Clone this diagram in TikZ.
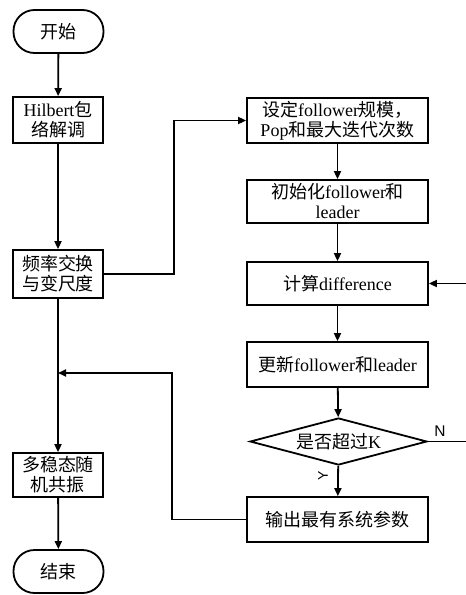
\documentclass[tikz,border=0pt]{standalone}
\usepackage{fontspec}
\setmainfont{Liberation Serif}
\newfontfamily\cjk{Noto Sans CJK SC}
\newfontfamily\labelfont{Liberation Sans}
\usetikzlibrary{arrows.meta,shapes.geometric}
\newcommand\zh[1]{{\cjk #1}}
\tikzset{
  box/.style={draw,line width=1.8pt,fill=white,minimum width=#1,align=center,
    font=\fontsize{18}{20}\selectfont,inner sep=1pt},
  box/.default=90pt,
  term/.style={draw,line width=1.8pt,rounded corners=21pt,minimum width=90pt,
    minimum height=43pt,font=\fontsize{18}{20}\selectfont},
  decide/.style={draw,diamond,aspect=3.75,line width=1.8pt,inner sep=0pt,
    minimum width=177pt,minimum height=47pt,font=\fontsize{18}{20}\selectfont},
  arr/.style={line width=1.8pt,-{Triangle[length=8pt,width=7pt]}},
}
\begin{document}
\begin{tikzpicture}[x=1pt,y=-1pt]
      \useasboundingbox (0,0) rectangle (466,595);
      % left column
      \node[term] (start) at (58.5,31.5) {\zh{开始}};
      \node[box,minimum height=46pt] (hilbert) at (58,120) {Hilbert\zh{包}\\\zh{络解调}};
      \node[box,minimum height=48pt] (freq) at (58,274) {\zh{频率交换}\\\zh{与变尺度}};
      \node[box,minimum height=44pt] (multi) at (58,475) {\zh{多稳态随}\\\zh{机共振}};
      \node[term] (stop) at (58.5,571.5) {\zh{结束}};
      % right column
      \node[box=181pt,minimum height=45pt] (setup) at (337.5,120.5)
        {\zh{设定}follower\zh{规模，}\\Pop\zh{和最大迭代次数}};
      \node[box=181pt,minimum height=43pt] (init) at (337.5,201.5)
        {\zh{初始化}follower\zh{和}\\leader};
      \node[box=181pt,minimum height=43pt] (calc) at (337.5,283.5) {\zh{计算}difference};
      \node[box=181pt,minimum height=45pt] (update) at (337.5,364.5) {\zh{更新}follower\zh{和}leader};
      \node[decide] (judge) at (338.5,441.5) {\zh{是否超过}K};
      \node[box=181pt,minimum height=45pt] (output) at (337.5,519.5) {\zh{输出最有系统参数}};
      \coordinate (join) at (58,373);
      \coordinate (back) at (470,441.5);
      \coordinate (turn) at (172,519.5);
      % connectors
      \draw[arr] (start) -- (hilbert);
      \draw[arr] (hilbert) -- (freq);
      \draw[arr] (freq) -- (multi);
      \draw[arr] (multi) -- (stop);
      \draw[arr] (freq.east) -- ++(70,0) |- (setup.west);
      \draw[arr] (setup) -- (init);
      \draw[arr] (init) -- (calc);
      \draw[arr] (calc) -- (update);
      \draw[arr] (update) -- (judge);
      \draw[arr] (judge) -- (output);
      \draw[arr] (judge.east) -- (back) |- (calc.east);
      \draw[arr] (output.west) -- (turn) |- (join);
      % branch labels
      \node[font=\labelfont\fontsize{15.5}{16}\selectfont] (no) at (440,431) {N};
      \node[font=\labelfont\fontsize{14}{14}\selectfont,rotate=90] (yes) at (323,476) {Y};
    \end{tikzpicture}
\end{document}
